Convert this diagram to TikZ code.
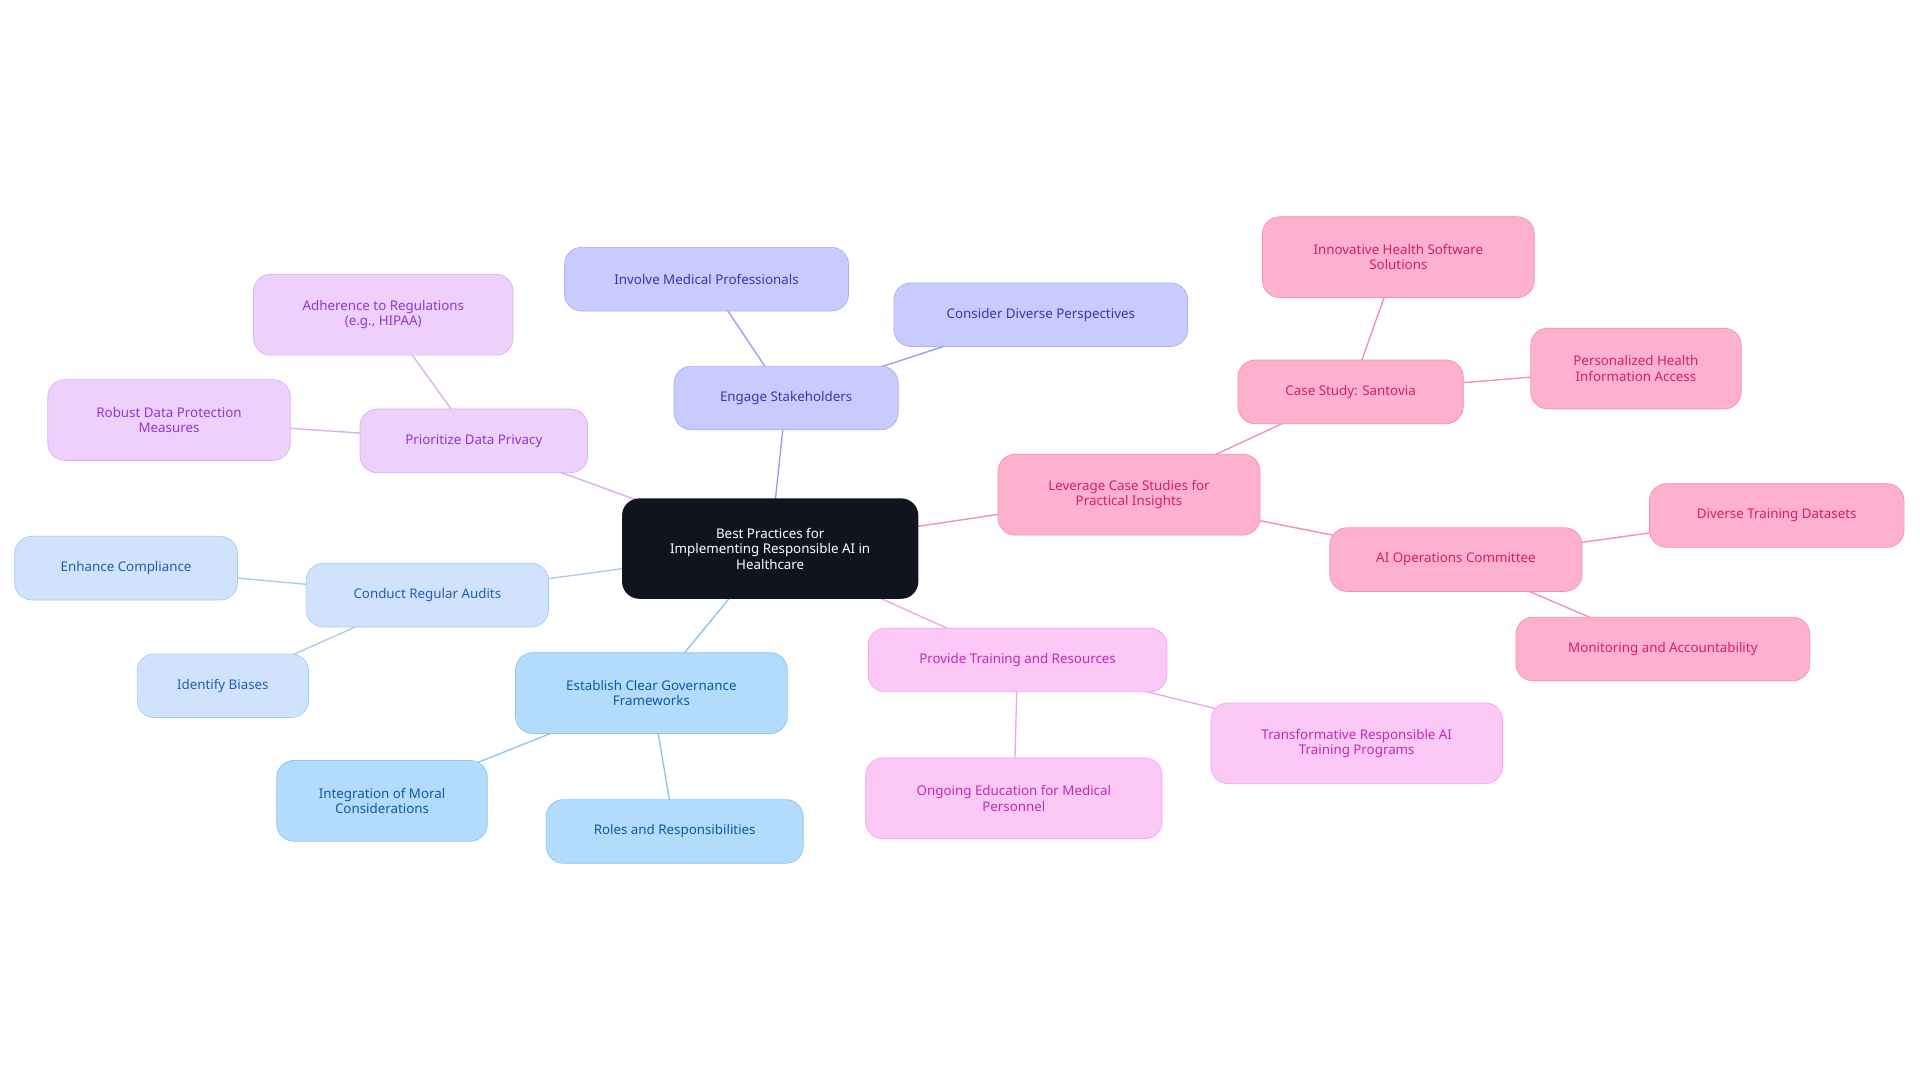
\documentclass[tikz,border=0pt]{standalone}
\usepackage{fontspec}
\setmainfont{Noto Sans}
\usetikzlibrary{backgrounds}
\definecolor{cen}{HTML}{0F141F}
\definecolor{inF}{HTML}{C8CBFE}\definecolor{inD}{HTML}{A9AEF5}\definecolor{inT}{HTML}{3B33B5}
\definecolor{puF}{HTML}{EDD0FB}\definecolor{puD}{HTML}{D9AEF5}\definecolor{puT}{HTML}{9035D8}
\definecolor{lbF}{HTML}{D0E2FC}\definecolor{lbD}{HTML}{AACAF5}\definecolor{lbT}{HTML}{1E5FB5}
\definecolor{blF}{HTML}{B3DBFC}\definecolor{blD}{HTML}{8CC4F2}\definecolor{blT}{HTML}{0D5AA5}
\definecolor{piF}{HTML}{FCC8F5}\definecolor{piD}{HTML}{F2A6EA}\definecolor{piT}{HTML}{C22AB5}
\definecolor{roF}{HTML}{FDB1CF}\definecolor{roD}{HTML}{F28FB7}\definecolor{roT}{HTML}{D81E62}
\tikzset{
 box/.style={rounded corners=20pt, align=center, inner sep=2pt, font=\fontsize{15.5}{18}\selectfont, line width=0.8pt},
 bx/.style n args={5}{box, fill=#1, draw=#2, text=#3, minimum width=#4*0.05cm, minimum height=#5*0.05cm},
 ed/.style={line width=1.6pt, draw=#1}
}
\begin{document}
\begin{tikzpicture}[x=0.05cm,y=-0.05cm]
\useasboundingbox (0,0) rectangle (1568,884);
\node[box, fill=cen, text=white, minimum width=242*0.05cm, minimum height=82*0.05cm] (c) at (629,448) {Best Practices for\\Implementing Responsible AI in\\Healthcare};
\node[bx={inF}{inD}{inT}{183}{52}] (eng) at (642,325) {Engage Stakeholders};
\node[bx={inF}{inD}{inT}{232}{52}] (inv) at (577,228) {Involve Medical Professionals};
\node[bx={inF}{inD}{inT}{240}{52}] (con) at (850,257) {Consider Diverse Perspectives};
\node[bx={puF}{puD}{puT}{186}{52}] (pri) at (387,360) {Prioritize Data Privacy};
\node[bx={puF}{puD}{puT}{212}{66}] (adh) at (313,257) {Adherence to Regulations\\(e.g., HIPAA)};
\node[bx={puF}{puD}{puT}{198}{66}] (rob) at (138,343) {Robust Data Protection\\Measures};
\node[bx={lbF}{lbD}{lbT}{198}{52}] (aud) at (349,486) {Conduct Regular Audits};
\node[bx={lbF}{lbD}{lbT}{182}{52}] (enh) at (103,464) {Enhance Compliance};
\node[bx={lbF}{lbD}{lbT}{140}{52}] (bia) at (182,560) {Identify Biases};
\node[bx={blF}{blD}{blT}{222}{66}] (gov) at (532,566) {Establish Clear Governance\\Frameworks};
\node[bx={blF}{blD}{blT}{172}{66}] (mor) at (312,654) {Integration of Moral\\Considerations};
\node[bx={blF}{blD}{blT}{210}{52}] (rol) at (551,679) {Roles and Responsibilities};
\node[bx={piF}{piD}{piT}{244}{52}] (tra) at (831,539) {Provide Training and Resources};
\node[bx={piF}{piD}{piT}{242}{66}] (ong) at (828,652) {Ongoing Education for Medical\\Personnel};
\node[bx={piF}{piD}{piT}{238}{66}] (trf) at (1108,607) {Transformative Responsible AI\\Training Programs};
\node[bx={roF}{roD}{roT}{214}{66}] (lev) at (922,404) {Leverage Case Studies for\\Practical Insights};
\node[bx={roF}{roD}{roT}{184}{52}] (san) at (1103,320) {Case Study: Santovia};
\node[bx={roF}{roD}{roT}{222}{66}] (ino) at (1142,210) {Innovative Health Software\\Solutions};
\node[bx={roF}{roD}{roT}{172}{66}] (per) at (1336,301) {Personalized Health\\Information Access};
\node[bx={roF}{roD}{roT}{206}{52}] (aio) at (1189,457) {AI Operations Committee};
\node[bx={roF}{roD}{roT}{208}{52}] (div) at (1451,421) {Diverse Training Datasets};
\node[bx={roF}{roD}{roT}{240}{52}] (mon) at (1358,530) {Monitoring and Accountability};
\begin{scope}[on background layer]
\draw[ed=inD!90!blue] (c.center)--(eng.center) (eng.center)--(inv.center) (eng.center)--(con.center);
\draw[ed=puD] (c.center)--(pri.center) (pri.center)--(adh.center) (pri.center)--(rob.center);
\draw[ed=lbD] (c.center)--(aud.center) (aud.center)--(enh.center) (aud.center)--(bia.center);
\draw[ed=blD] (c.center)--(gov.center) (gov.center)--(mor.center) (gov.center)--(rol.center);
\draw[ed=piD] (c.center)--(tra.center) (tra.center)--(ong.center) (tra.center)--(trf.center);
\draw[ed=roD] (c.center)--(lev.center) (lev.center)--(san.center) (lev.center)--(aio.center)
  (san.center)--(ino.center) (san.center)--(per.center) (aio.center)--(div.center) (aio.center)--(mon.center);
\end{scope}
\end{tikzpicture}
\end{document}
